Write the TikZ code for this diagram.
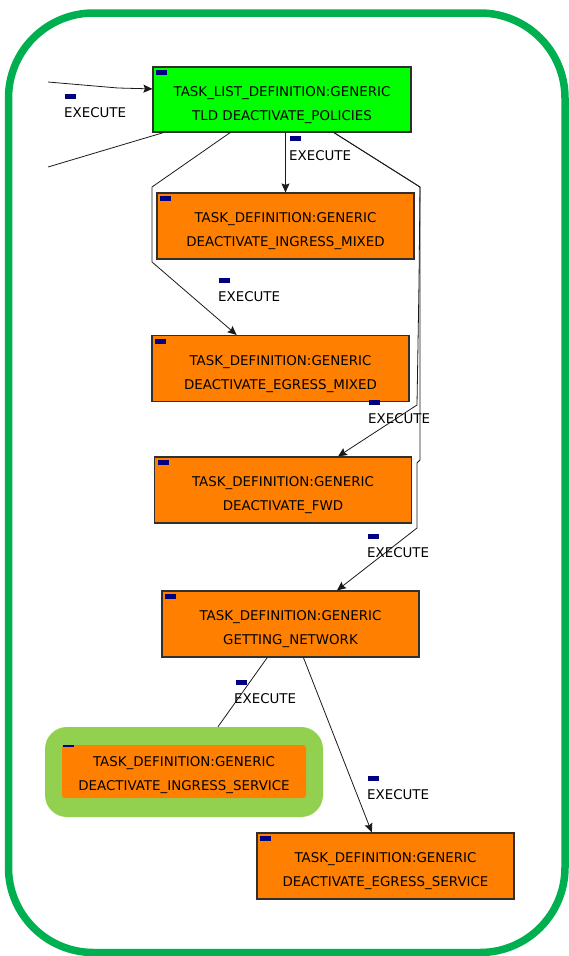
\documentclass[tikz,border=0pt]{standalone}
\usepackage{fontspec}
\setmainfont{DejaVu Sans}
\usetikzlibrary{arrows.meta,calc}

\definecolor{framegreen}{HTML}{00B050}
\definecolor{tldgreen}{HTML}{00FF00}
\definecolor{taskorange}{HTML}{FF8000}
\definecolor{activegreen}{HTML}{92D050}
\definecolor{tagnavy}{HTML}{000080}
\definecolor{boxline}{HTML}{303030}
\definecolor{edgeline}{HTML}{1A1A1A}

\tikzset{
  box/.style={draw=boxline, line width=1.1pt, minimum width=257pt,
    minimum height=66pt, inner sep=0pt},
  tldbox/.style={box, fill=tldgreen, minimum width=258pt, minimum height=65pt},
  taskbox/.style={box, fill=taskorange},
  caption/.style={font=\fontsize{13.4}{24}\selectfont, align=center,
    text=black, inner sep=0pt},
  elabel/.style={font=\fontsize{13.4}{16}\selectfont, anchor=west,
    inner sep=0pt, text=black},
  navytag/.style={fill=tagnavy},
  flow/.style={draw=edgeline, line width=0.8pt,
    -{Stealth[length=9pt,width=8pt,inset=1.5pt]}},
  plainflow/.style={draw=edgeline, line width=0.8pt},
}

\begin{document}
\begin{tikzpicture}[x=1pt, y=-1pt]
\useasboundingbox (0,0) rectangle (569,956);

% outer frame
\draw[framegreen, line width=7.5pt, rounded corners=85pt]
  (8.5,13) rectangle (565,952.5);

% task boxes
\node[tldbox]  (tld) at (282,99.5)  {};
\node[taskbox] (im)  at (285.5,226) {};
\node[taskbox] (em)  at (280.5,368.5) {};
\node[taskbox] (fwd) at (283,490)   {};
\node[taskbox] (gn)  at (290.5,624) {};
\node[taskbox] (es)  at (385.5,866) {};
\node[fill=activegreen, rounded corners=22pt, minimum width=278pt,
  minimum height=90pt, inner sep=0pt] (isbg) at (184,772) {};
\node[fill=taskorange, rounded corners=3pt, minimum width=244pt,
  minimum height=53pt, inner sep=0pt] (isin) at (184,771.5) {};

% captions
\node[caption] at ($(tld.center)+(0,5.5)$)
  {TASK\_LIST\_DEFINITION:GENERIC\\TLD DEACTIVATE\_POLICIES};
\node[caption] at ($(im.center)+(0,5.5)$)
  {TASK\_DEFINITION:GENERIC\\DEACTIVATE\_INGRESS\_MIXED};
\node[caption] at ($(em.center)+(0,5.5)$)
  {TASK\_DEFINITION:GENERIC\\DEACTIVATE\_EGRESS\_MIXED};
\node[caption] at ($(fwd.center)+(0,5.5)$)
  {TASK\_DEFINITION:GENERIC\\DEACTIVATE\_FWD};
\node[caption] at ($(gn.center)+(0,5.5)$)
  {TASK\_DEFINITION:GENERIC\\GETTING\_NETWORK};
\node[caption] at ($(isin.center)+(0,3.5)$)
  {TASK\_DEFINITION:GENERIC\\DEACTIVATE\_INGRESS\_SERVICE};
\node[caption] at ($(es.center)+(0,5.5)$)
  {TASK\_DEFINITION:GENERIC\\DEACTIVATE\_EGRESS\_SERVICE};

% corner tags of the boxes
\foreach \n in {tld,im,em,fwd,gn,es}
  \fill[navytag] ($(\n.north west)+(4,4)$) rectangle +(11,5);
\fill[navytag] ($(isin.north west)+(1,0)$) rectangle +(11,2);

% loose ends
\coordinate (inA) at (48,82);
\coordinate (inB) at (118,88);
\coordinate (outA) at (48,167);

% connectors
\draw[flow] (inA) -- (inB) -- ($(tld.north west)!0.34!(tld.south west)$);
\draw[plainflow] ($(tld.south west)!0.043!(tld.south east)$) -- (outA);
\draw[flow] (tld.south -| im.north) -- (im.north);
\draw[flow] ($(tld.south west)!0.3!(tld.south east)$) -- (152,187) -- (152,262)
  -- ($(em.north west)!0.33!(em.north east)$);
\draw[flow] ($(tld.south west)!0.7!(tld.south east)$) -- (420,187) -- (419,283)
  -- (417,405) -- ($(fwd.north west)!0.713!(fwd.north east)$);
\draw[flow] ($(tld.south west)!0.7!(tld.south east)$) -- (420,187) -- (420,460)
  -- (417,463) -- (417,528) -- ($(gn.north west)!0.68!(gn.north east)$);
\draw[plainflow] ($(gn.south west)!0.41!(gn.south east)$)
  -- ($(isbg.north west)!0.622!(isbg.north east)$);
\draw[flow] ($(gn.south west)!0.55!(gn.south east)$)
  -- ($(es.north west)!0.447!(es.north east)$);

% connector labels
\foreach \tx/\ty/\mx/\my in {64/113/65/94, 289/156/290/136, 218/297/219/278,
    368/419/369/400, 367/553/368/534, 234/699/236/680, 367/795/368/776}{
  \fill[navytag] (\mx,\my) rectangle +(11,5);
  \node[elabel] at (\tx,\ty) {EXECUTE};
}
\end{tikzpicture}
\end{document}
